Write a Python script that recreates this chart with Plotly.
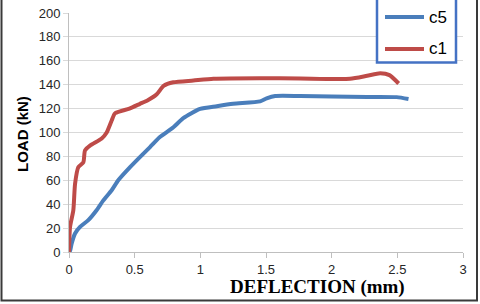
import plotly.graph_objects as go

# c5 series (deflection mm, load kN)
c5_x = [0.0, 0.008, 0.02, 0.046, 0.084, 0.147, 0.21, 0.26, 0.325, 0.375, 0.465, 0.54, 0.617,
        0.69, 0.795, 0.87, 0.998, 1.125, 1.25, 1.455, 1.505, 1.57, 1.76, 2.0, 2.27, 2.495, 2.585]
c5_y = [0, 1, 7, 15.5, 21, 26.7, 35, 43, 51.7, 60, 71, 79.4, 87.8,
        96, 104.4, 112, 119.7, 122, 124, 126, 128.5, 130.5, 130.5, 130.2, 129.8, 129.6, 128]

# c1 series
c1_x = [0.0, 0.008, 0.033, 0.046, 0.071, 0.109, 0.122, 0.16, 0.249, 0.287, 0.325, 0.35, 0.46,
        0.54, 0.60, 0.668, 0.72, 0.795, 0.947, 1.10, 1.45, 1.76, 2.14, 2.27, 2.37, 2.44, 2.51]
c1_y = [0, 21, 35, 57, 71, 75, 85, 89, 95, 100, 110, 116, 120,
        124, 127, 132, 139, 142, 143.5, 145, 145.5, 145.2, 145, 147.5, 149.5, 148, 141]

series_names = ["c5", "c1"]
series_colors = ["#4A7EBB", "#BE4B48"]

x_ticks = [0, 0.5, 1, 1.5, 2, 2.5, 3]
x_tick_labels = ["0", "0.5", "1", "1.5", "2", "2.5", "3"]
y_ticks = [0, 20, 40, 60, 80, 100, 120, 140, 160, 180, 200]

W, H = 480, 304
ML, MR, MT, MB = 69, 17, 13, 52
PW, PH = W - ML - MR, H - MT - MB

def px(x):
    return (x - ML) / PW

def py(y):
    return (H - MB - y) / PH

fig = go.Figure()
for xs, ys, nm, col in [(c5_x, c5_y, series_names[0], series_colors[0]),
                        (c1_x, c1_y, series_names[1], series_colors[1])]:
    fig.add_trace(go.Scatter(x=xs, y=ys, mode="lines", name=nm,
                             line=dict(color=col, width=4, shape="spline", smoothing=0.6)))

fig.update_layout(
    width=W, height=H,
    margin=dict(l=ML, r=MR, t=MT, b=MB, autoexpand=False),
    paper_bgcolor="white", plot_bgcolor="white",
    font=dict(family="Liberation Sans, Arial, sans-serif", size=13, color="#262626"),
    showlegend=False,
    xaxis=dict(range=[0, 3], tickvals=x_ticks, ticktext=x_tick_labels,
               showgrid=False, zeroline=False, showline=True, linecolor="#BFBFBF",
               linewidth=1, ticks="outside", ticklen=5, tickcolor="#BFBFBF"),
    yaxis=dict(range=[0, 200], tickvals=y_ticks, showgrid=True, gridcolor="#D9D9D9",
               gridwidth=1, zeroline=False, showline=True, linecolor="#BFBFBF",
               linewidth=1, ticks="outside", ticklen=5, tickcolor="#D9D9D9"),
)

fig.add_annotation(text="<b>LOAD (kN)</b>", xref="paper", yref="paper",
                   x=px(22), y=py(134), xanchor="center", yanchor="middle",
                   textangle=-90, showarrow=False,
                   font=dict(family="Liberation Sans, Arial, sans-serif", size=15, color="#000000"))
fig.add_annotation(text="<b>DEFLECTION (mm)</b>", xref="paper", yref="paper",
                   x=px(317), y=py(287), xanchor="center", yanchor="middle", showarrow=False,
                   font=dict(family="Liberation Serif, Times New Roman, serif", size=19, color="#000000"))

# legend box (manual, to match the reference's long swatches)
fig.add_shape(type="rect", xref="paper", yref="paper",
              x0=px(377), x1=px(456), y0=py(62.5), y1=py(-10),
              line=dict(color="#4472C4", width=2.5), fillcolor="white", layer="above")
for i, (nm, col) in enumerate(zip(series_names, series_colors)):
    yy = 17 + 32 * i
    fig.add_shape(type="line", xref="paper", yref="paper",
                  x0=px(385), x1=px(424), y0=py(yy), y1=py(yy),
                  line=dict(color=col, width=4), layer="above")
    fig.add_annotation(text=nm, xref="paper", yref="paper", x=px(427), y=py(yy),
                       xanchor="left", yanchor="middle", showarrow=False,
                       font=dict(family="Liberation Sans, Arial, sans-serif", size=17, color="#000000"))

fig.add_shape(type="rect", xref="paper", yref="paper",
              x0=px(1.5), x1=px(477), y0=py(300.5), y1=py(-10),
              line=dict(color="#3A3A3A", width=2), layer="above")

fig.write_html("out.html", config={"displayModeBar": False},
               post_script="document.body.style.margin='0';document.body.style.overflow='hidden';")
